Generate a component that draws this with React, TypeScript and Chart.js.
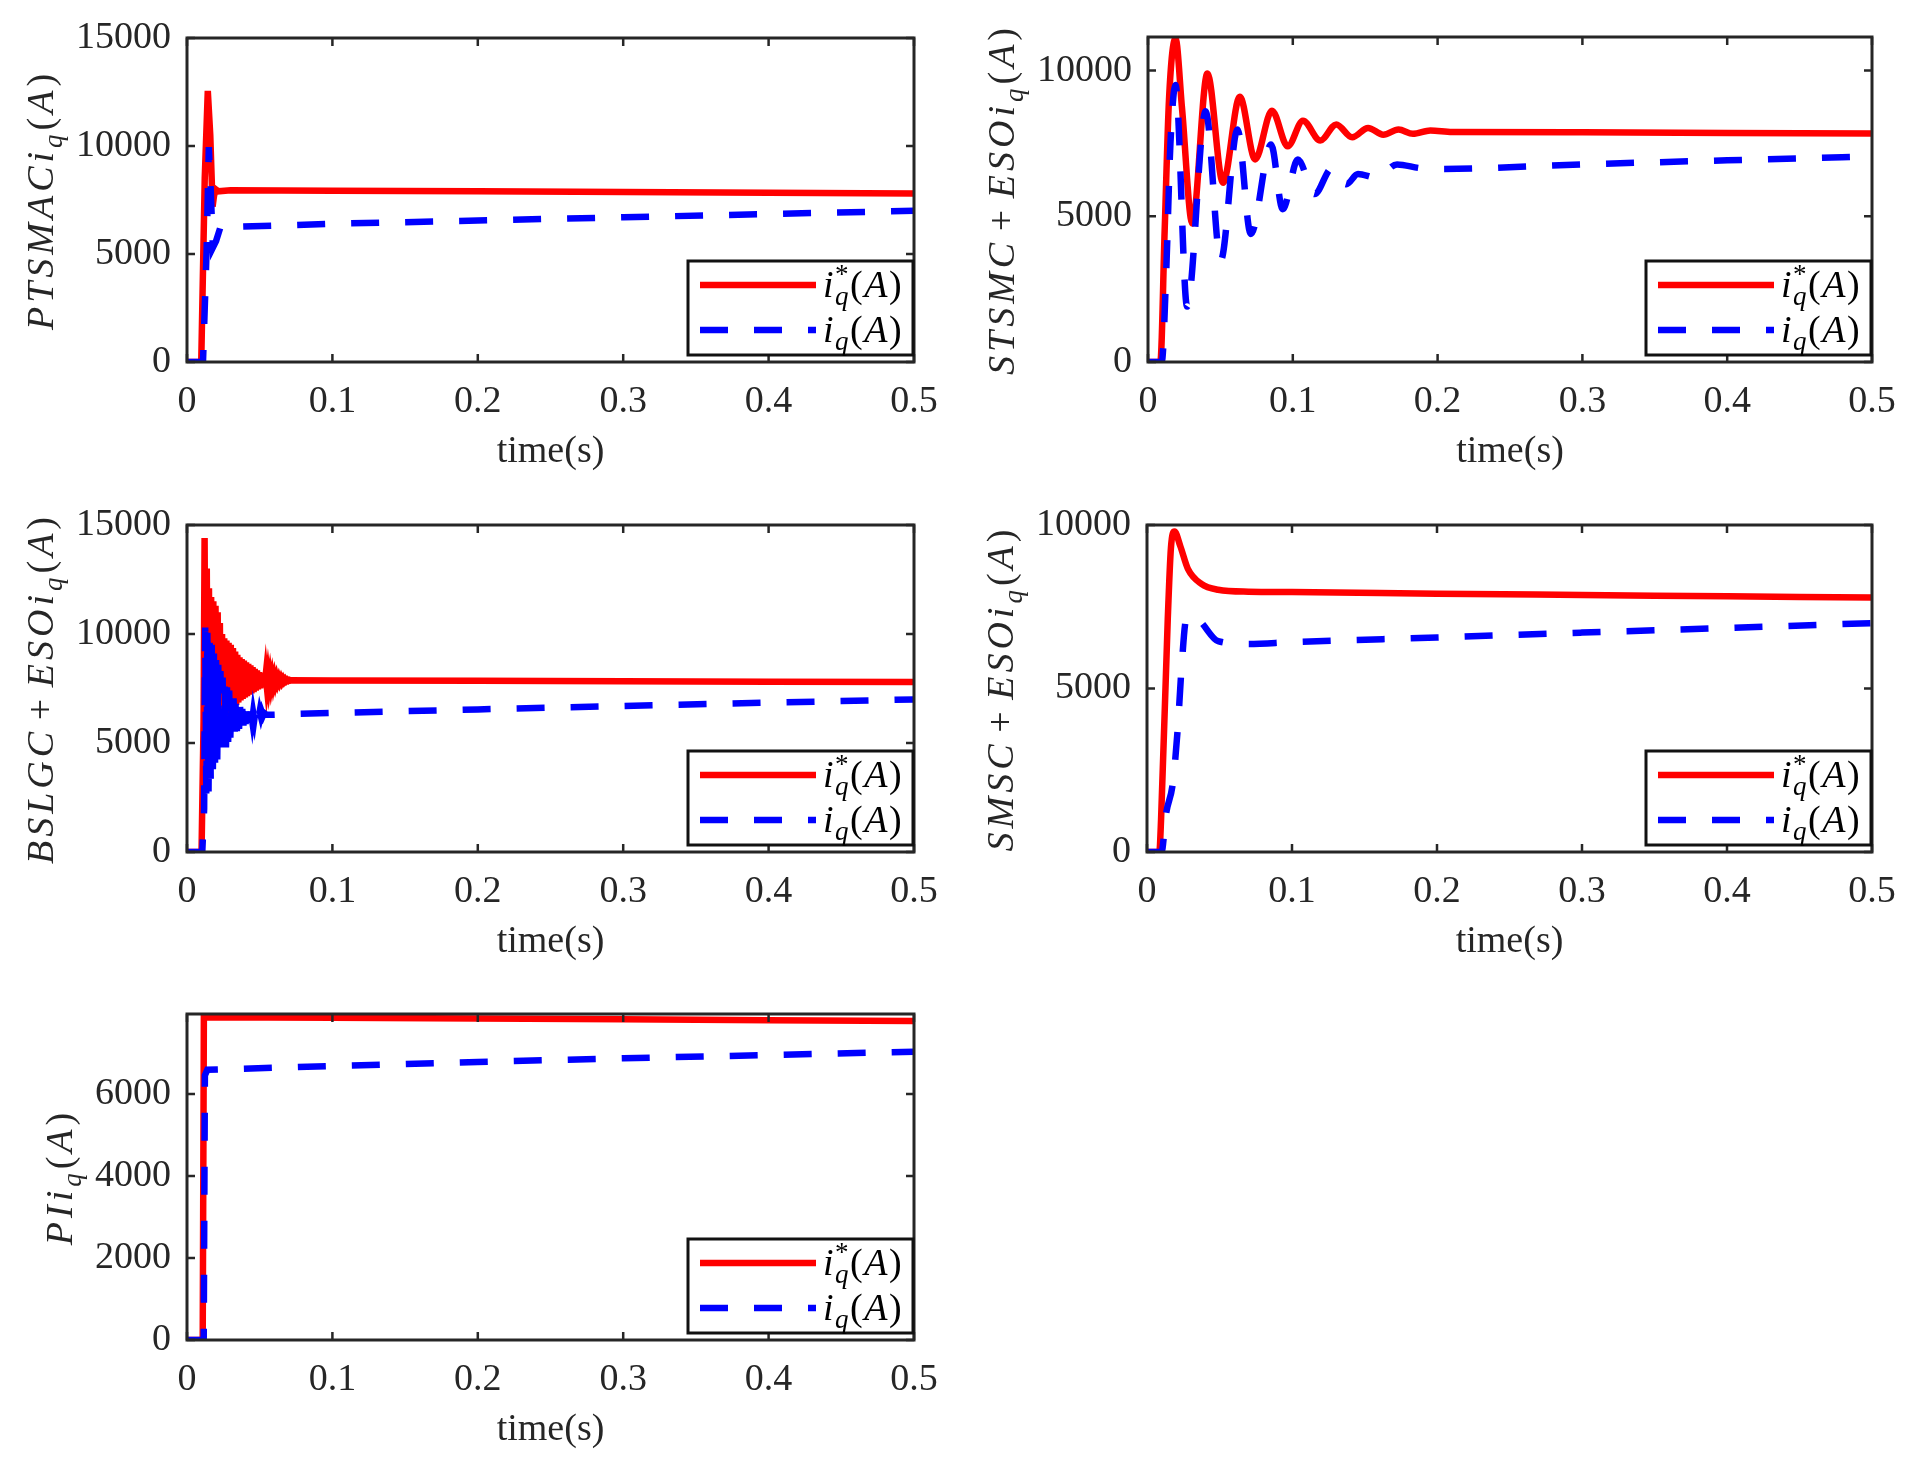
import { useEffect, useRef } from "react";
import Chart from "chart.js/auto";

type Pt = [number, number];
type Seg = { t?: string; it?: boolean; sup?: string; sub?: string };

const FONT = "'Liberation Serif', 'Times New Roman', serif";
const INK = "#262626";
const RED = "#ff0000";
const BLUE = "#0000ff";

// shared x axis (time in s)
const xTicks = [0, 0.1, 0.2, 0.3, 0.4, 0.5];
const xTickLabels = ["0", "0.1", "0.2", "0.3", "0.4", "0.5"];

// PTSMAC
const ptsmacRef: Pt[] = [
  [0, 0], [0.0098, 0], [0.0122, 8500], [0.0143, 12550], [0.016, 10500], [0.0176, 7200],
  [0.0186, 7700], [0.0196, 8000], [0.0215, 7900], [0.03, 7950], [0.1, 7930], [0.2, 7900],
  [0.3, 7870], [0.4, 7830], [0.5, 7800],
];
const ptsmacIq: Pt[] = [
  [0, 0], [0.011, 0], [0.0135, 5200], [0.015, 9950], [0.0163, 8000], [0.0178, 5300],
  [0.02, 5600], [0.0235, 6350], [0.03, 6250], [0.1, 6400], [0.2, 6550], [0.3, 6700],
  [0.4, 6850], [0.5, 7000],
];
const ptsmacYTicks = [0, 5000, 10000, 15000];

// STSMC + ESO
const stsmcRef: Pt[] = [
  [0, 0], [0.0085, 0], [0.0115, 4500], [0.0145, 9000], [0.019, 11100], [0.0235, 8700],
  [0.0306, 4750], [0.041, 9900], [0.0518, 6150], [0.0634, 9100], [0.074, 6950], [0.0856, 8620],
  [0.0965, 7400], [0.107, 8280], [0.119, 7600], [0.13, 8150], [0.141, 7710], [0.152, 8030],
  [0.1625, 7800], [0.173, 7975], [0.183, 7830], [0.195, 7945], [0.21, 7890], [0.3, 7880],
  [0.4, 7860], [0.5, 7840],
];
const stsmcIq: Pt[] = [
  [0, 0], [0.0095, 0], [0.0125, 3000], [0.0155, 7500], [0.019, 9500], [0.027, 1900],
  [0.0398, 8600], [0.0502, 3480], [0.0618, 7980], [0.071, 4390], [0.085, 7460], [0.093, 5240],
  [0.1035, 6950], [0.115, 5760], [0.127, 6650], [0.137, 6100], [0.145, 6450], [0.158, 6320],
  [0.172, 6780], [0.188, 6650], [0.2, 6620], [0.3, 6780], [0.4, 6920], [0.5, 7050],
];
const stsmcYTicks = [0, 5000, 10000];

// BSLGC + ESO
const bslgcRef: Pt[] = [
  [0, 0], [0.01, 0], [0.0114, 6000], [0.0121, 14400], [0.0128, 4200], [0.0136, 13000],
  [0.0143, 4300], [0.0151, 12100], [0.0158, 4400], [0.0166, 11700], [0.0173, 4500],
  [0.0181, 11500], [0.0188, 4700], [0.0196, 11300], [0.0203, 4950], [0.0211, 11000],
  [0.0218, 5300], [0.0226, 10500], [0.0233, 5550], [0.0241, 10000], [0.0248, 5800],
  [0.0256, 9800], [0.0263, 6000], [0.0271, 9700], [0.0278, 6200], [0.0286, 9600],
  [0.0293, 6350], [0.0301, 9500], [0.0308, 6500], [0.0316, 9350], [0.0323, 6600],
  [0.0331, 9200], [0.0338, 6750], [0.0346, 9050], [0.0353, 6850], [0.0361, 8930],
  [0.0368, 6950], [0.0376, 8850], [0.0383, 7020], [0.0391, 8780], [0.0398, 7080],
  [0.0406, 8700], [0.0413, 7150], [0.0421, 8630], [0.0428, 7220], [0.0436, 8560],
  [0.0443, 7280], [0.0451, 8480], [0.0458, 7340], [0.0466, 8400], [0.0473, 7400],
  [0.0481, 8330], [0.0488, 7460], [0.0496, 8250], [0.0503, 7510], [0.0511, 8200],
  [0.0518, 7560], [0.0526, 8150], [0.0533, 7600], [0.0541, 8110], [0.0548, 7640],
  [0.0556, 8080], [0.0563, 7670], [0.0571, 8050], [0.0578, 7700], [0.0586, 8020],
  [0.0593, 7730], [0.0601, 8000], [0.0608, 7760], [0.0616, 7980], [0.0623, 7790],
  [0.0631, 7960], [0.0638, 7805], [0.0646, 7945], [0.0653, 7815], [0.0661, 7930],
  [0.0668, 7830], [0.0676, 7915], [0.0683, 7845], [0.0691, 7900], [0.0698, 7855],
  [0.0706, 7890], [0.0713, 7865], [0.072, 7875], [0.1, 7870], [0.2, 7850], [0.3, 7830],
  [0.4, 7810], [0.5, 7800],
];
const bslgcIq: Pt[] = [
  [0, 0], [0.0105, 0], [0.0118, 2000], [0.0125, 10300], [0.0133, 2200], [0.014, 10200],
  [0.0148, 2700], [0.0155, 9900], [0.0163, 3300], [0.017, 9500], [0.0178, 3800],
  [0.0185, 9100], [0.0193, 4100], [0.02, 8800], [0.0208, 4250], [0.0215, 8600],
  [0.0223, 4350], [0.023, 8300], [0.0238, 4450], [0.0245, 8000], [0.0253, 4600],
  [0.026, 7750], [0.0268, 4800], [0.0275, 7550], [0.0283, 5050], [0.029, 7400],
  [0.0298, 5250], [0.0305, 7250], [0.0313, 5350], [0.032, 7050], [0.0328, 5450],
  [0.0335, 6900], [0.0343, 5550], [0.035, 6750], [0.0358, 5650], [0.0365, 6650],
  [0.0373, 5720], [0.038, 6560], [0.0388, 5800], [0.0395, 6500], [0.0403, 5870],
  [0.041, 6450], [0.0418, 5930], [0.0425, 6420], [0.0433, 5980], [0.044, 6400],
  [0.0448, 6030], [0.0455, 6400], [0.0463, 6080], [0.047, 6420], [0.0478, 6130],
  [0.0485, 6440], [0.0493, 6180], [0.05, 6450], [0.0508, 6230], [0.0515, 6420],
  [0.0523, 6270], [0.053, 6380], [0.0545, 6300], [0.06, 6300], [0.1, 6380], [0.2, 6540],
  [0.3, 6700], [0.4, 6850], [0.5, 7000],
];
const bslgcYTicks = [0, 5000, 10000, 15000];

// SMSC + ESO
const smscRef: Pt[] = [
  [0, 0], [0.0085, 0], [0.0097, 1000], [0.0143, 7100], [0.0165, 9300], [0.019, 9800],
  [0.023, 9350], [0.0282, 8660], [0.0375, 8200], [0.049, 8020], [0.07, 7960], [0.1, 7950],
  [0.2, 7900], [0.3, 7860], [0.4, 7820], [0.5, 7780],
];
const smscIq: Pt[] = [
  [0, 0], [0.01, 0], [0.0132, 1180], [0.0178, 2100], [0.0213, 3840], [0.0236, 5480],
  [0.027, 7120], [0.0305, 7220], [0.0363, 7070], [0.049, 6450], [0.07, 6360], [0.1, 6420],
  [0.2, 6560], [0.3, 6710], [0.4, 6850], [0.5, 7000],
];
const smscYTicks = [0, 5000, 10000];

// PI
const piRef: Pt[] = [
  [0, 0], [0.0108, 0], [0.0116, 7870], [0.1, 7860], [0.2, 7840], [0.3, 7820], [0.4, 7800],
  [0.5, 7780],
];
const piIq: Pt[] = [
  [0, 0], [0.0115, 0], [0.0123, 6450], [0.014, 6590], [0.1, 6680], [0.2, 6780], [0.3, 6870],
  [0.4, 6950], [0.5, 7030],
];
const piYTicks = [0, 2000, 4000, 6000];

const iqSub: Seg[] = [{ t: "i", it: true }, { sub: "q" }, { t: "(" }, { t: "A", it: true }, { t: ")" }];
const legendRef: Seg[] = [{ t: "i", it: true }, { sup: "*", sub: "q" }, { t: "(" }, { t: "A", it: true }, { t: ")" }];

type PanelCfg = {
  label: Seg[];
  box: [number, number, number, number]; // plot area: left, top, right, bottom
  yMax: number;
  yTicks: number[];
  ref: Pt[];
  iq: Pt[];
  smooth: boolean;
};

const panels: PanelCfg[] = [
  { label: [{ t: "PTSMAC", it: true }, ...iqSub], box: [187, 38, 914, 362], yMax: 15000, yTicks: ptsmacYTicks, ref: ptsmacRef, iq: ptsmacIq, smooth: false },
  { label: [{ t: "STSMC", it: true }, { t: " + " }, { t: "ESO", it: true }, ...iqSub], box: [1148, 37, 1872, 362], yMax: 11150, yTicks: stsmcYTicks, ref: stsmcRef, iq: stsmcIq, smooth: true },
  { label: [{ t: "BSLGC", it: true }, { t: " + " }, { t: "ESO", it: true }, ...iqSub], box: [187, 525, 914, 852], yMax: 15000, yTicks: bslgcYTicks, ref: bslgcRef, iq: bslgcIq, smooth: false },
  { label: [{ t: "SMSC", it: true }, { t: " + " }, { t: "ESO", it: true }, ...iqSub], box: [1147, 525, 1872, 852], yMax: 10000, yTicks: smscYTicks, ref: smscRef, iq: smscIq, smooth: true },
  { label: [{ t: "PI", it: true }, ...iqSub], box: [187, 1014, 914, 1340], yMax: 7950, yTicks: piYTicks, ref: piRef, iq: piIq, smooth: false },
];

const Y_W = 180;
const X_H = 115;
const PAD_T = 45; // must exceed half a tick label plus its padding
const PAD_R = 50;
const FS = 38;

// draws math-like text with italic letters, sub/superscripts; returns width
function drawRich(ctx: CanvasRenderingContext2D, segs: Seg[], x: number, y: number, size: number, gap: number, draw: boolean) {
  let cx = x;
  const small = Math.round(size * 0.7);
  for (const s of segs) {
    if (s.t) {
      ctx.font = `${s.it ? "italic " : ""}${size}px ${FONT}`;
      for (const ch of s.t) {
        if (ch === " ") {
          cx += size * 0.2;
          continue;
        }
        if (draw) ctx.fillText(ch, cx, y);
        cx += ctx.measureText(ch).width + gap;
      }
    } else {
      let w = 0;
      if (s.sup) {
        ctx.font = `${small}px ${FONT}`;
        if (draw) ctx.fillText(s.sup, cx, y - size * 0.36);
        w = Math.max(w, ctx.measureText(s.sup).width);
      }
      if (s.sub) {
        ctx.font = `italic ${small}px ${FONT}`;
        if (draw) ctx.fillText(s.sub, cx, y + size * 0.22);
        w = Math.max(w, ctx.measureText(s.sub).width);
      }
      cx += w + gap;
    }
  }
  return cx - x;
}

const framePlugin = (cfg: PanelCfg) => ({
  id: "frame",
  afterDraw(chart: any) {
    const { ctx, chartArea: a, scales } = chart;
    const xs = scales.x;
    const ys = scales.y;
    ctx.save();

    // inward ticks on all four sides
    ctx.strokeStyle = INK;
    ctx.lineWidth = 2.5;
    ctx.beginPath();
    xs.ticks.forEach((t: any) => {
      const px = xs.getPixelForValue(t.value);
      ctx.moveTo(px, a.bottom);
      ctx.lineTo(px, a.bottom - 8);
      ctx.moveTo(px, a.top);
      ctx.lineTo(px, a.top + 8);
    });
    ys.ticks.forEach((t: any) => {
      const py = ys.getPixelForValue(t.value);
      ctx.moveTo(a.left, py);
      ctx.lineTo(a.left + 8, py);
      ctx.moveTo(a.right, py);
      ctx.lineTo(a.right - 8, py);
    });
    ctx.stroke();
    ctx.lineWidth = 3;
    ctx.strokeRect(a.left, a.top, a.right - a.left, a.bottom - a.top);

    // legend
    const bw = 225;
    const bh = 94;
    const bx = a.right - 1 - bw;
    const by = a.bottom - 7 - bh;
    ctx.fillStyle = "#fff";
    ctx.fillRect(bx, by, bw, bh);
    ctx.strokeStyle = "#111";
    ctx.lineWidth = 3;
    ctx.strokeRect(bx, by, bw, bh);
    ctx.lineCap = "butt";
    ctx.lineWidth = 6.5;
    ctx.strokeStyle = RED;
    ctx.beginPath();
    ctx.moveTo(bx + 12, by + 24);
    ctx.lineTo(bx + 128, by + 24);
    ctx.stroke();
    ctx.strokeStyle = BLUE;
    ctx.setLineDash([28, 26]);
    ctx.beginPath();
    ctx.moveTo(bx + 12, by + 69);
    ctx.lineTo(bx + 128, by + 69);
    ctx.stroke();
    ctx.setLineDash([]);
    ctx.fillStyle = "#000";
    ctx.textBaseline = "alphabetic";
    ctx.textAlign = "left";
    drawRich(ctx, legendRef, bx + 135, by + 36, FS, 1.5, true);
    drawRich(ctx, iqSub, bx + 135, by + 81, FS, 1.5, true);

    // y axis label, rotated
    ctx.font = `${FS}px ${FONT}`;
    const tw = Math.max(...cfg.yTicks.map((v) => ctx.measureText(String(v)).width));
    const lx = a.left - 16 - tw - 34;
    const cy = (a.top + a.bottom) / 2;
    ctx.translate(lx, cy);
    ctx.rotate(-Math.PI / 2);
    ctx.fillStyle = INK;
    const w = drawRich(ctx, cfg.label, 0, 0, FS, 4, false);
    drawRich(ctx, cfg.label, -w / 2, FS * 0.3, FS, 4, true);
    ctx.restore();
  },
});

function Panel({ cfg }: { cfg: PanelCfg }) {
  const canvasRef = useRef<HTMLCanvasElement | null>(null);
  const [L, T, R, B] = cfg.box;
  const w = R - L + Y_W + PAD_R;
  const h = B - T + PAD_T + X_H;

  useEffect(() => {
    if (!canvasRef.current) return;
    const ctx = canvasRef.current.getContext("2d");
    if (!ctx) return;
    const line = { pointRadius: 0, borderWidth: 6.5, fill: false, tension: 0, cubicInterpolationMode: cfg.smooth ? "monotone" : "default" } as any;

    const chart = new Chart(ctx, {
      type: "line",
      data: {
        datasets: [
          { ...line, label: "iq", data: cfg.iq.map(([x, y]) => ({ x, y })), borderColor: BLUE, borderDash: [28, 26], borderCapStyle: "butt", order: 0 },
          { ...line, label: "iq*", data: cfg.ref.map(([x, y]) => ({ x, y })), borderColor: RED, order: 1 },
        ],
      },
      options: {
        animation: false,
        responsive: false,
        devicePixelRatio: 1,
        events: [],
        layout: { padding: { left: 0, top: PAD_T, right: PAD_R, bottom: 0 } },
        plugins: { legend: { display: false }, tooltip: { enabled: false } },
        scales: {
          x: {
            type: "linear",
            min: 0,
            max: 0.5,
            grid: { display: false, drawTicks: false },
            border: { display: false },
            afterBuildTicks: (s: any) => {
              s.ticks = xTicks.map((v) => ({ value: v }));
            },
            afterFit: (s: any) => {
              s.height = X_H;
            },
            ticks: {
              padding: 17,
              color: INK,
              autoSkip: false,
              maxRotation: 0,
              font: { family: FONT, size: FS },
              callback: (v: any) => xTickLabels[xTicks.indexOf(Number(v))] ?? "",
            },
            title: { display: true, text: "time(s)", color: INK, font: { family: FONT, size: FS }, padding: { top: 0, bottom: 2 } },
          },
          y: {
            type: "linear",
            min: 0,
            max: cfg.yMax,
            grid: { display: false, drawTicks: false },
            border: { display: false },
            afterBuildTicks: (s: any) => {
              s.ticks = cfg.yTicks.map((v) => ({ value: v }));
            },
            afterFit: (s: any) => {
              s.width = Y_W;
            },
            ticks: { padding: 16, color: INK, font: { family: FONT, size: FS }, callback: (v: any) => String(v) },
          },
        },
      } as any,
      plugins: [framePlugin(cfg)],
    });

    return () => {
      chart.destroy();
    };
  }, [cfg]);

  return (
    <canvas
      ref={canvasRef}
      width={w}
      height={h}
      style={{ position: "absolute", left: L - Y_W, top: T - PAD_T, width: w, height: h }}
    />
  );
}

export default function App() {
  return (
    <div style={{ position: "fixed", left: 0, top: 0, width: 1921, height: 1466, background: "#fff", overflow: "hidden" }}>
      {panels.map((p, i) => (
        <Panel key={i} cfg={p} />
      ))}
    </div>
  );
}
